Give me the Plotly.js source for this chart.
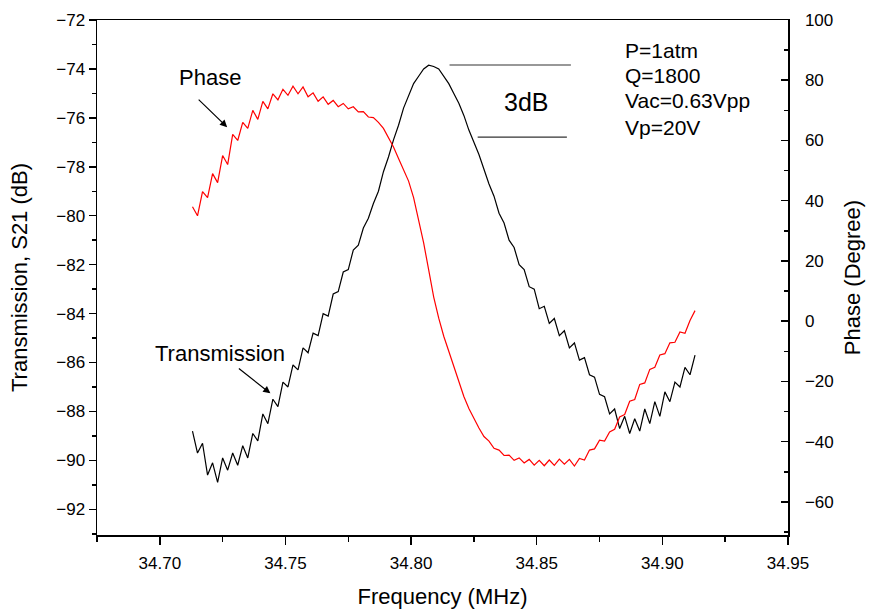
<!DOCTYPE html>
<html>
<head>
<meta charset="utf-8">
<script src="https://cdn.plot.ly/plotly-3.0.1.min.js"></script>
<style>html,body{margin:0;padding:0;background:#fff;}</style>
</head>
<body>
<div id="chart" style="width:869px;height:612px;"></div>
<script>
// Frequency (MHz)
var freq = [34.713,34.715,34.717,34.719,34.721,34.723,34.725,34.727,34.729,34.731,
34.733,34.735,34.737,34.739,34.741,34.743,34.745,34.747,34.749,34.751,
34.753,34.755,34.757,34.759,34.761,34.763,34.765,34.767,34.769,34.771,
34.773,34.775,34.777,34.779,34.781,34.783,34.785,34.787,34.789,34.791,
34.793,34.795,34.797,34.799,34.801,34.803,34.805,34.807,34.809,34.811,
34.813,34.815,34.817,34.819,34.821,34.823,34.825,34.827,34.829,34.831,
34.833,34.835,34.837,34.839,34.841,34.843,34.845,34.847,34.849,34.851,
34.853,34.855,34.857,34.859,34.861,34.863,34.865,34.867,34.869,34.871,
34.873,34.875,34.877,34.879,34.881,34.883,34.885,34.887,34.889,34.891,
34.893,34.895,34.897,34.899,34.901,34.903,34.905,34.907,34.909,34.911,34.913];

// Transmission S21 (dB)
var transmission = [-88.8,-89.7,-89.3,-90.6,-90.1,-90.9,-89.9,-90.4,-89.7,-90.2,
-89.4,-89.9,-88.9,-89.2,-88.1,-88.5,-87.5,-87.8,-86.8,-87.0,
-86.1,-86.3,-85.4,-85.6,-84.8,-84.9,-84.0,-84.1,-83.2,-83.1,
-82.3,-82.2,-81.4,-81.2,-80.5,-80.1,-79.5,-79.0,-78.2,-77.6,
-76.9,-76.3,-75.6,-75.1,-74.6,-74.3,-74.0,-73.85,-73.9,-74.0,
-74.3,-74.6,-75.0,-75.4,-75.9,-76.5,-77.0,-77.5,-78.1,-78.7,
-79.2,-79.9,-80.3,-81.0,-81.3,-82.0,-82.2,-82.9,-83.0,-83.8,
-83.7,-84.4,-84.2,-84.9,-84.7,-85.4,-85.2,-85.9,-85.8,-86.5,
-86.6,-87.3,-87.4,-88.1,-87.9,-88.7,-88.2,-88.9,-88.3,-88.8,
-87.9,-88.5,-87.6,-88.2,-87.2,-87.6,-86.8,-87.0,-86.2,-86.5,-85.7];

// Phase (Degree)
var phase = [38,35,43,41,49,46,55,52,62,60,
66,64,70,67,73,70.5,75.5,73.5,77,75,
78,75.5,77.8,74.5,75.8,73,74.5,72,73.3,71.2,
72.3,70.5,71.2,69.5,69.6,67.8,67.6,66,64,61,
57.8,54,50.5,46.5,41,34,26,17,8,1,
-5,-10,-15,-20,-25,-29,-32.5,-35.5,-38.3,-39.8,
-42.2,-42.8,-44.6,-44.5,-46.2,-45.4,-47.1,-45.9,-47.8,-46.2,
-48.0,-46.1,-47.9,-45.8,-47.5,-45.9,-48.1,-45.6,-46.1,-42.8,
-42.4,-39.5,-39.8,-36.8,-35.9,-31.8,-31.0,-26.6,-26.0,-21.0,
-20.5,-16.0,-15.3,-11.2,-10.8,-7.2,-7.0,-3.6,-4.0,0.2,3.5];

// 3dB marker lines (frequency span, level in dB)
var upperLineX = [34.8153, 34.8636], upperLineY = -73.84;
var lowerLineX = [34.8265, 34.8620], lowerLineY = -76.79;

// Measurement conditions (one line each) and their vertical positions (dB)
var conditionsText = ["P=1atm", "Q=1800", "Vac=0.63Vpp", "Vp=20V"];
var conditionsY = [-73.23, -74.27, -75.31, -76.38];

var FONT = "Liberation Sans, Arial, sans-serif";

var traces = [
  {x: freq, y: transmission, type: "scatter", mode: "lines", name: "Transmission",
   line: {color: "#000000", width: 1.2}, yaxis: "y"},
  {x: freq, y: phase, type: "scatter", mode: "lines", name: "Phase",
   line: {color: "#ff0000", width: 1.2}, yaxis: "y2"}
];

var annotations = [
  {xref: "x", yref: "y", x: 34.8457, y: -75.35, text: "3dB", showarrow: false,
   font: {size: 25, family: FONT}},
  {xref: "x", yref: "y", x: 34.7201, y: -74.37, text: "Phase", showarrow: false,
   font: {size: 22, family: FONT}},
  {xref: "x", yref: "y", x: 34.7268, y: -76.38, ax: -30, ay: -29, text: "",
   showarrow: true, arrowhead: 2, arrowsize: 1.2, arrowwidth: 1.2, arrowcolor: "#000"},
  {xref: "x", yref: "y", x: 34.724, y: -85.62, text: "Transmission", showarrow: false,
   font: {size: 22, family: FONT}},
  {xref: "x", yref: "y", x: 34.744, y: -87.26, ax: -33, ay: -26, text: "",
   showarrow: true, arrowhead: 2, arrowsize: 1.2, arrowwidth: 1.2, arrowcolor: "#000"}
];
conditionsText.forEach(function (t, i) {
  annotations.push({xref: "x", yref: "y", x: 34.8843, y: conditionsY[i],
    xanchor: "left", yanchor: "middle", text: t, showarrow: false,
    font: {size: 21, family: FONT}});
});

var layout = {
  width: 869, height: 612,
  margin: {l: 97, r: 81, t: 20, b: 77},
  paper_bgcolor: "#fff", plot_bgcolor: "#fff",
  showlegend: false,
  font: {family: FONT, color: "#000", size: 17},
  xaxis: {
    range: [34.675, 34.95], tick0: 34.70, dtick: 0.05, tickformat: ".2f",
    ticks: "outside", ticklen: 8, tickwidth: 1.5, tickcolor: "#000",
    minor: {dtick: 0.025, ticks: "outside", ticklen: 5, tickwidth: 1.5, tickcolor: "#000"},
    showline: true, linecolor: "#000", linewidth: 1.5, mirror: true,
    showgrid: false, zeroline: false,
    ticklabelstandoff: 4,
    tickfont: {size: 17, family: FONT},
    title: {text: "Frequency (MHz)", font: {size: 22, family: FONT}, standoff: 16}
  },
  yaxis: {
    range: [-93.05, -72], tick0: -72, dtick: 2,
    ticks: "outside", ticklen: 7, tickwidth: 1.5, tickcolor: "#000",
    minor: {dtick: 1, ticks: "outside", ticklen: 4, tickwidth: 1.5, tickcolor: "#000"},
    showline: true, linecolor: "#000", linewidth: 1.5,
    showgrid: false, zeroline: false,
    tickfont: {size: 17, family: FONT},
    title: {text: "Transmission, S21 (dB)", font: {size: 22, family: FONT}, standoff: 22}
  },
  yaxis2: {
    overlaying: "y", side: "right",
    range: [-71, 100], tick0: 0, dtick: 20,
    ticks: "inside", ticklen: 7, tickwidth: 1.5, tickcolor: "#000",
    minor: {dtick: 10, ticks: "inside", ticklen: 4, tickwidth: 1.5, tickcolor: "#000"},
    showline: true, linecolor: "#000", linewidth: 1.5,
    showgrid: false, zeroline: false,
    ticklabelstandoff: 12,
    tickfont: {size: 17, family: FONT},
    title: {text: "Phase (Degree)", font: {size: 22, family: FONT}, standoff: 12}
  },
  shapes: [
    {type: "line", xref: "x", yref: "y", x0: upperLineX[0], x1: upperLineX[1],
     y0: upperLineY, y1: upperLineY, line: {color: "#333", width: 1.2}},
    {type: "line", xref: "x", yref: "y", x0: lowerLineX[0], x1: lowerLineX[1],
     y0: lowerLineY, y1: lowerLineY, line: {color: "#333", width: 1.2}}
  ],
  annotations: annotations
};

Plotly.newPlot("chart", traces, layout, {displayModeBar: false, staticPlot: true});
</script>
</body>
</html>
